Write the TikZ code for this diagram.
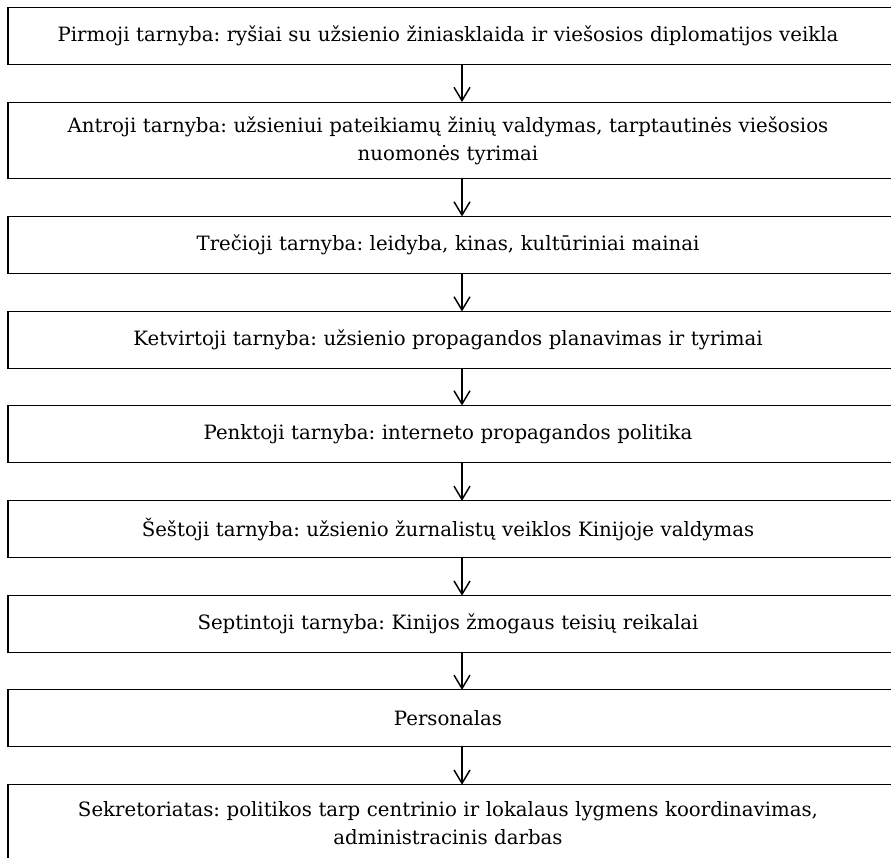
\documentclass[tikz,border=0pt]{standalone}
\usepackage{fontspec}
\setmainfont{DejaVu Serif}
\frenchspacing
\usetikzlibrary{arrows.meta}

\begin{document}
\begin{tikzpicture}[x=0.75pt,y=-0.75pt,
    tarnyba/.style={text width=640pt, align=center, inner sep=0pt,
      minimum height=42.4pt, font=\fontsize{14.8}{21}\selectfont},
    dviem/.style={tarnyba, minimum height=57pt},
    remas/.style={draw=black, line width=0.8pt},
    rodykle/.style={-{Straight Barb[length=10pt,width=12pt]}, line width=1.1pt}]
            \useasboundingbox (0,0) rectangle (891,857);
            \coordinate (kaire) at (8,0);
            \coordinate (desine) at (905,0);
            \coordinate (asis) at (462,0);

            \node[tarnyba] at (448,36.2) (t1) {Pirmoji tarnyba: ryšiai su užsienio žiniasklaida ir viešosios diplomatijos veikla};
            \node[dviem] at (448,140.3) (t2) {Antroji tarnyba: užsieniui pateikiamų žinių valdymas, tarptautinės viešosios\\ nuomonės tyrimai};
            \node[tarnyba] at (448,245) (t3) {Trečioji tarnyba: leidyba, kinas, kultūriniai mainai};
            \node[tarnyba] at (448,340) (t4) {Ketvirtoji tarnyba: užsienio propagandos planavimas ir tyrimai};
            \node[tarnyba] at (448,434) (t5) {Penktoji tarnyba: interneto propagandos politika};
            \node[tarnyba] at (448,529.4) (t6) {Šeštoji tarnyba: užsienio žurnalistų veiklos Kinijoje valdymas};
            \node[tarnyba] at (448,624.2) (t7) {Septintoji tarnyba: Kinijos žmogaus teisių reikalai};
            \node[tarnyba] at (448,718.4) (t8) {Personalas};
            \node[dviem] at (448,823) (t9) {Sekretoriatas: politikos tarp centrinio ir lokalaus lygmens koordinavimas,\\ administracinis darbas};

            % remeliai
            \draw[remas] (t1.north -| kaire) rectangle (t1.south -| desine);
            \draw[remas] (t2.north -| kaire) rectangle (t2.south -| desine);
            \draw[remas] (t3.north -| kaire) rectangle (t3.south -| desine);
            \draw[remas] (t4.north -| kaire) rectangle (t4.south -| desine);
            \draw[remas] (t5.north -| kaire) rectangle (t5.south -| desine);
            \draw[remas] (t6.north -| kaire) rectangle (t6.south -| desine);
            \draw[remas] (t7.north -| kaire) rectangle (t7.south -| desine);
            \draw[remas] (t8.north -| kaire) rectangle (t8.south -| desine);
            \draw[remas] (t9.north -| kaire) rectangle (t9.south -| desine);

            % rodykles
            \draw[rodykle] (t1.south -| asis) -- (t2.north -| asis);
            \draw[rodykle] (t2.south -| asis) -- (t3.north -| asis);
            \draw[rodykle] (t3.south -| asis) -- (t4.north -| asis);
            \draw[rodykle] (t4.south -| asis) -- (t5.north -| asis);
            \draw[rodykle] (t5.south -| asis) -- (t6.north -| asis);
            \draw[rodykle] (t6.south -| asis) -- (t7.north -| asis);
            \draw[rodykle] (t7.south -| asis) -- (t8.north -| asis);
            \draw[rodykle] (t8.south -| asis) -- (t9.north -| asis);
        \end{tikzpicture}
\end{document}
